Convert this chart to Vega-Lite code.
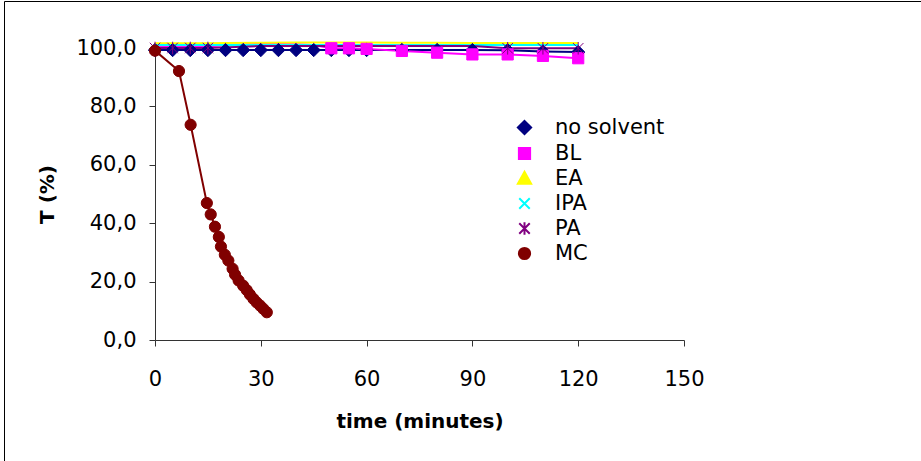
{
  "$schema": "https://vega.github.io/schema/vega-lite/v6.json",
  "autosize": "none",
  "padding": {"left": 4, "top": 1, "right": 0, "bottom": 0},
  "width": 917,
  "height": 460,
  "background": "white",
  "config": {
    "view": {"stroke": "#000000", "strokeWidth": 1},
    "font": "DejaVu Sans",
    "axis": {"grid": false},
    "legend": {
      "orient": "none", "legendX": 510, "legendY": 116, "title": null,
      "labelFont": "DejaVu Sans", "labelFontSize": 21, "labelColor": "#000000",
      "symbolSize": 196, "symbolStrokeWidth": 2, "labelOffset": 20, "rowPadding": 3, "padding": 0
    }
  },
  "data": {
    "values": [
      {"series": "no solvent", "t": 0, "T": 99.3},
      {"series": "no solvent", "t": 5, "T": 99.3},
      {"series": "no solvent", "t": 10, "T": 99.3},
      {"series": "no solvent", "t": 15, "T": 99.3},
      {"series": "no solvent", "t": 20, "T": 99.3},
      {"series": "no solvent", "t": 25, "T": 99.3},
      {"series": "no solvent", "t": 30, "T": 99.3},
      {"series": "no solvent", "t": 35, "T": 99.3},
      {"series": "no solvent", "t": 40, "T": 99.3},
      {"series": "no solvent", "t": 45, "T": 99.3},
      {"series": "no solvent", "t": 50, "T": 99.3},
      {"series": "no solvent", "t": 55, "T": 99.3},
      {"series": "no solvent", "t": 60, "T": 99.3},
      {"series": "no solvent", "t": 70, "T": 99.3},
      {"series": "no solvent", "t": 80, "T": 99.3},
      {"series": "no solvent", "t": 90, "T": 99.3},
      {"series": "no solvent", "t": 100, "T": 99.2},
      {"series": "no solvent", "t": 110, "T": 98.8},
      {"series": "no solvent", "t": 120, "T": 98.6},
      {"series": "BL", "t": 0, "T": 100.6},
      {"series": "BL", "t": 5, "T": 100.6},
      {"series": "BL", "t": 10, "T": 100.6},
      {"series": "BL", "t": 15, "T": 100.6},
      {"series": "BL", "t": 20, "T": 100.9},
      {"series": "BL", "t": 25, "T": 101.3},
      {"series": "BL", "t": 30, "T": 101.4},
      {"series": "BL", "t": 35, "T": 101.4},
      {"series": "BL", "t": 40, "T": 101.3},
      {"series": "BL", "t": 45, "T": 101.0},
      {"series": "BL", "t": 50, "T": 99.9},
      {"series": "BL", "t": 55, "T": 99.9},
      {"series": "BL", "t": 60, "T": 99.7},
      {"series": "BL", "t": 70, "T": 99.0},
      {"series": "BL", "t": 80, "T": 98.4},
      {"series": "BL", "t": 90, "T": 97.8},
      {"series": "BL", "t": 100, "T": 97.8},
      {"series": "BL", "t": 110, "T": 97.3},
      {"series": "BL", "t": 120, "T": 96.5},
      {"series": "EA", "t": 0, "T": 101.6},
      {"series": "EA", "t": 5, "T": 101.6},
      {"series": "EA", "t": 10, "T": 101.6},
      {"series": "EA", "t": 15, "T": 101.6},
      {"series": "EA", "t": 20, "T": 101.7},
      {"series": "EA", "t": 30, "T": 101.8},
      {"series": "EA", "t": 40, "T": 101.9},
      {"series": "EA", "t": 50, "T": 101.9},
      {"series": "EA", "t": 60, "T": 101.9},
      {"series": "EA", "t": 70, "T": 101.8},
      {"series": "EA", "t": 80, "T": 101.8},
      {"series": "EA", "t": 90, "T": 101.7},
      {"series": "EA", "t": 100, "T": 101.7},
      {"series": "EA", "t": 110, "T": 101.7},
      {"series": "EA", "t": 120, "T": 101.7},
      {"series": "IPA", "t": 0, "T": 101.0},
      {"series": "IPA", "t": 5, "T": 101.0},
      {"series": "IPA", "t": 10, "T": 101.0},
      {"series": "IPA", "t": 15, "T": 101.0},
      {"series": "IPA", "t": 30, "T": 101.0},
      {"series": "IPA", "t": 60, "T": 101.0},
      {"series": "IPA", "t": 90, "T": 101.0},
      {"series": "IPA", "t": 100, "T": 101.0},
      {"series": "IPA", "t": 110, "T": 101.0},
      {"series": "IPA", "t": 120, "T": 101.0},
      {"series": "PA", "t": 0, "T": 100.0},
      {"series": "PA", "t": 5, "T": 100.0},
      {"series": "PA", "t": 10, "T": 100.0},
      {"series": "PA", "t": 15, "T": 100.0},
      {"series": "PA", "t": 30, "T": 100.7},
      {"series": "PA", "t": 60, "T": 100.7},
      {"series": "PA", "t": 90, "T": 100.7},
      {"series": "PA", "t": 100, "T": 99.9},
      {"series": "PA", "t": 110, "T": 99.9},
      {"series": "PA", "t": 120, "T": 99.9},
      {"series": "MC", "t": 0, "T": 99.1},
      {"series": "MC", "t": 6.8, "T": 92.1},
      {"series": "MC", "t": 10.1, "T": 73.7},
      {"series": "MC", "t": 14.7, "T": 46.9},
      {"series": "MC", "t": 15.8, "T": 43.0},
      {"series": "MC", "t": 17.0, "T": 38.8},
      {"series": "MC", "t": 18.1, "T": 35.3},
      {"series": "MC", "t": 18.7, "T": 32.0},
      {"series": "MC", "t": 19.8, "T": 29.2},
      {"series": "MC", "t": 20.8, "T": 27.2},
      {"series": "MC", "t": 22.0, "T": 24.4},
      {"series": "MC", "t": 22.7, "T": 22.4},
      {"series": "MC", "t": 23.7, "T": 20.4},
      {"series": "MC", "t": 25.0, "T": 18.6},
      {"series": "MC", "t": 26.0, "T": 17.1},
      {"series": "MC", "t": 26.9, "T": 15.6},
      {"series": "MC", "t": 27.9, "T": 14.1},
      {"series": "MC", "t": 28.8, "T": 12.9},
      {"series": "MC", "t": 29.8, "T": 11.8},
      {"series": "MC", "t": 30.7, "T": 10.7},
      {"series": "MC", "t": 31.7, "T": 9.5}
    ]
  },
  "encoding": {
    "x": {
      "field": "t", "type": "quantitative",
      "scale": {"domain": [0, 150], "range": [151, 680], "nice": false, "zero": false},
      "axis": {
        "values": [0, 30, 60, 90, 120, 150],
        "title": "time (minutes)",
        "offset": -121,
        "labelFont": "DejaVu Sans", "labelFontSize": 21, "labelColor": "#000000",
        "labelPadding": 22, "labelFlush": false,
        "tickSize": 6, "tickColor": "#333333", "domainColor": "#333333",
        "titleFont": "DejaVu Sans", "titleFontSize": 20, "titleFontWeight": "bold",
        "titleColor": "#000000", "titlePadding": 22
      }
    },
    "y": {
      "field": "T", "type": "quantitative",
      "scale": {"domain": [0, 100], "range": [339, 47], "nice": false, "zero": false},
      "axis": {
        "values": [0, 20, 40, 60, 80, 100],
        "labelExpr": "replace(format(datum.value, '.1f'), '.', ',')",
        "title": "T (%)",
        "offset": -151,
        "labelFont": "DejaVu Sans", "labelFontSize": 21, "labelColor": "#000000",
        "labelPadding": 13, "labelFlush": false,
        "tickSize": 6, "tickColor": "#333333", "domainColor": "#333333",
        "titleFont": "DejaVu Sans", "titleFontSize": 20, "titleFontWeight": "bold",
        "titleColor": "#000000", "titlePadding": 18
      }
    }
  },
  "layer": [
    {
      "mark": {"type": "line", "strokeWidth": 2},
      "encoding": {
        "stroke": {
          "field": "series", "type": "nominal",
          "scale": {"domain": ["no solvent", "BL", "EA", "IPA", "PA", "MC"], "range": ["#000080", "#FF00FF", "#FFFF00", "#00FFFF", "#800080", "#800000"]}
        }
      }
    },
    {
      "transform": [{"filter": "datum.T <= 100"}],
      "mark": {"type": "point", "size": 196, "strokeWidth": 1, "opacity": 1},
      "encoding": {
        "stroke": {
          "field": "series", "type": "nominal",
          "scale": {"domain": ["no solvent", "BL", "EA", "IPA", "PA", "MC"], "range": ["#000080", "#FF00FF", "#FFFF00", "#00FFFF", "#800080", "#800000"]},
          "legend": {
            "encode": {"symbols": {"opacity": {"value": 1}}}
          }
        },
        "fill": {
          "field": "series", "type": "nominal",
          "scale": {"domain": ["no solvent", "BL", "EA", "IPA", "PA", "MC"], "range": ["#000080", "#FF00FF", "#FFFF00", "transparent", "transparent", "#800000"]},
          "legend": {
            "encode": {"symbols": {"opacity": {"value": 1}}}
          }
        },
        "shape": {
          "field": "series", "type": "nominal",
          "scale": {"domain": ["no solvent", "BL", "EA", "IPA", "PA", "MC"], "range": ["M0,-0.95L0.95,0L0,0.95L-0.95,0Z", "M-0.8,-0.8H0.8V0.8H-0.8Z", "M0,-0.95L0.95,0.75H-0.95Z", "M-0.75,-0.75L0.75,0.75M-0.75,0.75L0.75,-0.75", "M-0.75,-0.75L0.75,0.75M-0.75,0.75L0.75,-0.75M0,-0.9V0.9", "M0.8,0A0.8,0.8 0 1,1 -0.8,0A0.8,0.8 0 1,1 0.8,0Z"]},
          "legend": null
        }
      }
    }
  ]
}
